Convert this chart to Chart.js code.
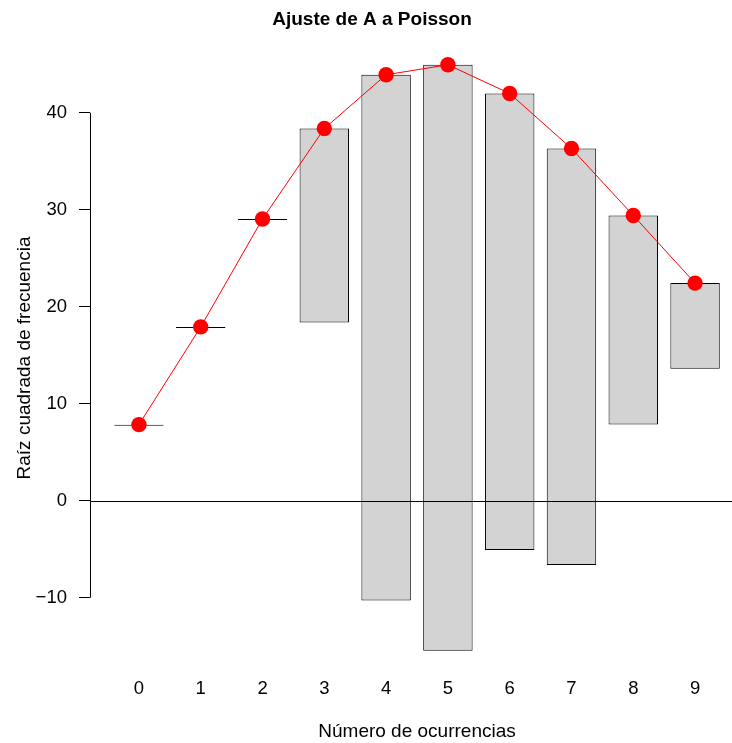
<!DOCTYPE html>
<html>
<head>
<meta charset="utf-8">
<script src="https://cdn.jsdelivr.net/npm/chart.js@4/dist/chart.umd.min.js"></script>
<style>
  html, body { margin: 0; padding: 0; overflow: hidden; background: #fff; }
  #wrap { width: 834px; height: 743px; position: relative; }
</style>
</head>
<body>
<div id="wrap"><canvas id="rootogram"></canvas></div>
<script>
const ocurrencias = [0, 1, 2, 3, 4, 5, 6, 7, 8, 9];
// raiz cuadrada de la frecuencia esperada (Poisson)
const raizEsperada = [7.84, 17.92, 29.05, 38.38, 43.92, 44.95, 41.99, 36.32, 29.41, 22.44];
// raiz cuadrada de la frecuencia observada
const raizObservada = [0, 0, 0, 20.0, 54.2, 60.41, 47.07, 42.95, 21.54, 8.84];
const yTicks = [-10, 0, 10, 20, 30, 40];

const font = "'Liberation Sans', Arial, sans-serif";

// rootograma colgante: cada barra cuelga del valor esperado
const barras = ocurrencias.map((k, i) => ({
  x: k,
  y: [raizEsperada[i] - raizObservada[i], raizEsperada[i]],
}));
const puntos = ocurrencias.map((k, i) => ({ x: k, y: raizEsperada[i] }));

const ejes = {
  id: "ejes",
  afterDatasetsDraw(chart) {
    const { ctx, chartArea } = chart;
    const y = chart.scales.y;
    ctx.save();
    ctx.strokeStyle = "#000";
    ctx.lineWidth = 1;
    const y0 = Math.round(y.getPixelForValue(0)) + 0.5;
    ctx.beginPath();
    ctx.moveTo(chartArea.left, y0);
    ctx.lineTo(chartArea.right, y0);
    ctx.stroke();
    const x = Math.round(chartArea.left) + 0.5;
    ctx.beginPath();
    ctx.moveTo(x, y.getPixelForValue(yTicks[yTicks.length - 1]));
    ctx.lineTo(x, y.getPixelForValue(yTicks[0]));
    ctx.stroke();
    ctx.restore();
  },
};

new Chart(document.getElementById("rootogram"), {
  data: {
    datasets: [
      {
        type: "line",
        data: puntos,
        borderColor: "#ff0000",
        borderWidth: 1,
        backgroundColor: "#ff0000",
        pointBackgroundColor: "#ff0000",
        pointBorderWidth: 0,
        pointRadius: 7.7,
        order: 0,
      },
      {
        type: "bar",
        data: barras,
        backgroundColor: "#d3d3d3",
        borderColor: "#000",
        borderWidth: 1,
        borderSkipped: false,
        minBarLength: 1,
        barPercentage: 0.8,
        categoryPercentage: 1,
        order: 1,
      },
    ],
  },
  plugins: [ejes],
  options: {
    responsive: true,
    maintainAspectRatio: false,
    animation: false,
    layout: { padding: { right: 90 } },
    plugins: {
      legend: { display: false },
      tooltip: { enabled: false },
      title: {
        display: true,
        text: "Ajuste de A a Poisson",
        color: "#000",
        font: { family: font, size: 19, weight: "bold" },
        padding: { top: 8.5, bottom: 10.7 },
      },
    },
    scales: {
      x: {
        type: "linear",
        offset: false,
        min: -0.792,
        max: 9.792,
        afterBuildTicks: (s) => { s.ticks = ocurrencias.map((v) => ({ value: v })); },
        afterFit: (s) => { s.height = 69; },
        grid: { display: false, drawTicks: false },
        border: { display: false },
        ticks: {
          color: "#000",
          font: { family: font, size: 18.5 },
          padding: 3.5,
          maxRotation: 0,
        },
        title: {
          display: true,
          text: "Número de ocurrencias",
          color: "#000",
          font: { family: font, size: 19 },
          padding: { top: 0, bottom: 0 },
        },
      },
      y: {
        min: -17.87,
        max: 47.3,
        afterBuildTicks: (s) => { s.ticks = yTicks.map((v) => ({ value: v })); },
        afterFit: (s) => { s.width = 90; },
        grid: {
          drawOnChartArea: false,
          tickLength: 11,
          tickColor: "#000",
          color: "#000",
        },
        border: { display: false },
        ticks: {
          color: "#000",
          font: { family: font, size: 18.5 },
          padding: 12,
          callback: (v) => String(v).replace("-", "\u2212"),
        },
        title: {
          display: true,
          text: "Raíz cuadrada de frecuencia",
          color: "#000",
          font: { family: font, size: 19 },
          padding: { top: 13.5, bottom: 0 },
        },
      },
    },
  },
});
</script>
</body>
</html>
